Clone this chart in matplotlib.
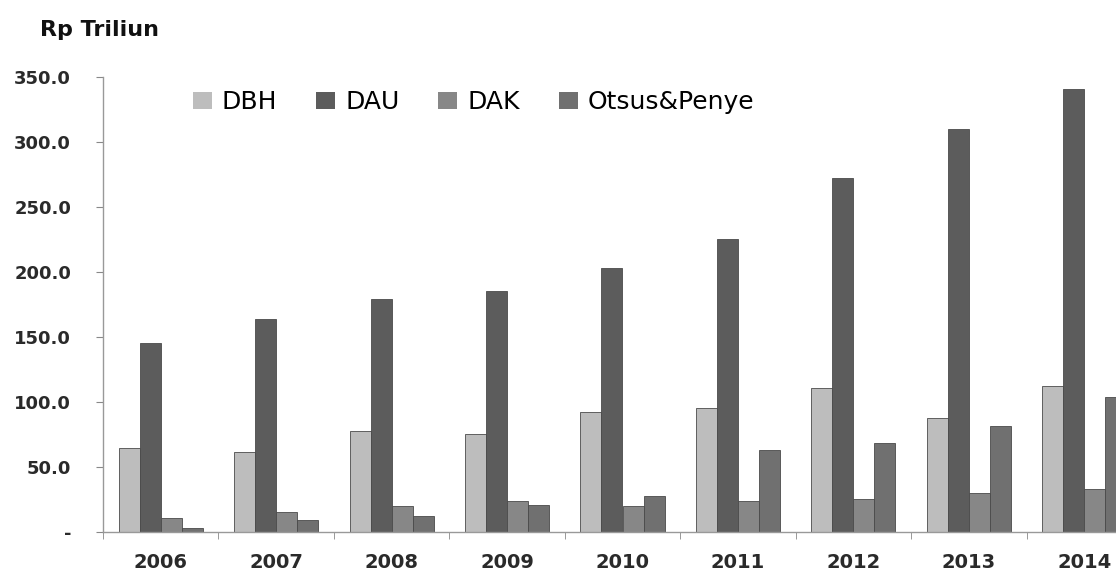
import matplotlib
matplotlib.use("Agg")
import matplotlib.pyplot as plt
import numpy as np

years = ["2006", "2007", "2008", "2009", "2010", "2011", "2012", "2013", "2014"]
dbh = [64.6, 61.8, 77.7, 75.4, 92.3, 95.4, 110.8, 87.7, 112.3]
dau = [145.4, 164.0, 179.5, 185.4, 203.0, 225.4, 272.3, 310.0, 340.8]
dak = [10.8, 15.4, 20.0, 24.0, 20.0, 23.8, 25.4, 30.0, 33.0]
otsus = [3.0, 9.2, 12.3, 21.0, 27.7, 63.0, 68.5, 81.5, 103.8]
series_names = ["DBH", "DAU", "DAK", "Otsus&Penye"]
colors = ["#bdbdbd", "#5c5c5c", "#878787", "#707070"]
yticks = [0, 50, 100, 150, 200, 250, 300, 350]

W, H = 1116, 572
fig = plt.figure(figsize=(W / 100, H / 100), dpi=100)
ax = fig.add_axes([103 / W, 40 / H, 1039 / W, 455 / H])

x = np.arange(len(years))
bw = 0.182
for i, (vals, name, c) in enumerate(zip([dbh, dau, dak, otsus], series_names, colors)):
    ax.bar(x + (i - 1.5) * bw, vals, width=bw, color=c, edgecolor="#4a4a4a",
           linewidth=0.6, label=name, zorder=2)

ax.set_xlim(-0.5, len(years) - 0.5)
ax.set_ylim(0, 350)
ax.set_yticks(yticks)
ax.set_yticklabels(["-" if v == 0 else f"{v:.1f}" for v in yticks],
                   fontsize=13, fontweight="bold", family="DejaVu Sans", color="#2a2a2a")
ax.set_xticks(x)
ax.set_xticklabels(years, fontsize=14, fontweight="bold", family="DejaVu Sans", color="#2a2a2a")
ax.set_xticks(np.arange(-0.5, len(years), 1.0), minor=True)
ax.tick_params(axis="x", which="major", length=0, pad=15)
ax.tick_params(axis="x", which="minor", length=5, color="#888888", direction="out")
ax.tick_params(axis="y", length=5, color="#888888", direction="out", pad=18)
for s in ["top", "right"]:
    ax.spines[s].set_visible(False)
for s in ["left", "bottom"]:
    ax.spines[s].set_color("#999999")
    ax.spines[s].set_linewidth(1.0)

leg = ax.legend(loc="center left", bbox_to_anchor=(90 / 1039, 1 - 25 / 455), ncol=4, frameon=False,
                prop={"family": "DejaVu Sans", "size": 18}, handlelength=0.76, handleheight=0.68,
                handletextpad=0.4, columnspacing=1.55, borderaxespad=0.0, borderpad=0.0)
for h in leg.legend_handles:
    h.set_edgecolor("none")

fig.text(40 / W, 1 - 30 / H, "Rp Triliun", fontsize=16, fontweight="bold",
         family="DejaVu Sans", va="center", ha="left", color="#111111")

fig.savefig("out.png", dpi=100)
